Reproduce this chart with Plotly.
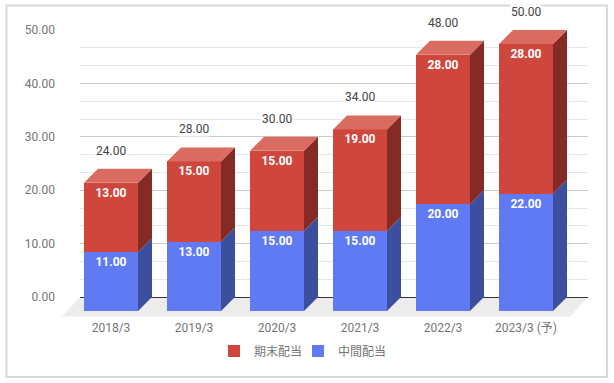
import plotly.graph_objects as go

categories = ["2018/3", "2019/3", "2020/3", "2021/3", "2022/3", "2023/3 (予)"]
interim = [11, 13, 15, 15, 20, 22]
final = [13, 15, 15, 19, 28, 28]
totals = [24, 28, 30, 34, 48, 50]
y_ticks = [0, 10, 20, 30, 40, 50]
series_names = {"interim": "中間配当", "final": "期末配当"}

W, H = 614, 383
FONT = "Roboto, 'Noto Sans CJK JP', sans-serif"
RED, RED_SIDE, RED_TOP = "#cf463c", "#862a25", "#d96b60"
BLUE, BLUE_SIDE = "#5f7af3", "#3c4f9f"

PX_PER_UNIT = 267 / 50
PX_PER_CAT = 83
BAR_W = 54 / PX_PER_CAT
DX = 14 / PX_PER_CAT
DY = 14 / PX_PER_UNIT
FRONT_ZERO_PX = 311
FRONT_BOTTOM_PX = 317
y2_range = [(FRONT_ZERO_PX - FRONT_BOTTOM_PX) / PX_PER_UNIT, FRONT_ZERO_PX / PX_PER_UNIT]


def poly(xs, ys, color):
    return go.Scatter(x=xs, y=ys, mode="lines", fill="toself", fillcolor=color,
                      line=dict(width=0, color=color), hoverinfo="skip",
                      showlegend=False, xaxis="x2", yaxis="y2")


idx = list(range(len(categories)))
fig = go.Figure()

# back-wall axes need a trace to be drawn
fig.add_trace(go.Scatter(x=[0], y=[0], mode="markers", marker=dict(opacity=0),
                         hoverinfo="skip", showlegend=False, xaxis="x", yaxis="y"))

fig.add_trace(go.Bar(x=idx, y=interim, name=series_names["interim"], marker=dict(color=BLUE, line_width=0),
                     width=BAR_W, text=[f"{v:.2f}" for v in interim], textposition="inside",
                     insidetextanchor="end", textangle=0, legend="legend2",
                     textfont=dict(color="white", size=12, family=FONT, weight="bold"),
                     xaxis="x2", yaxis="y2"))
fig.add_trace(go.Bar(x=idx, y=final, name=series_names["final"], marker=dict(color=RED, line_width=0),
                     width=BAR_W, text=[f"{v:.2f}" for v in final], textposition="inside",
                     insidetextanchor="end", textangle=0, legend="legend",
                     textfont=dict(color="white", size=12, family=FONT, weight="bold"),
                     xaxis="x2", yaxis="y2"))

for i, a, b in zip(idx, interim, final):
    r = i + BAR_W / 2
    l = i - BAR_W / 2
    t = a + b
    fig.add_trace(poly([r, r + DX, r + DX, r, r], [0, DY, a + DY, a, 0], BLUE_SIDE))
    fig.add_trace(poly([r, r + DX, r + DX, r, r], [a, a + DY, t + DY, t, a], RED_SIDE))
    fig.add_trace(poly([l, l + DX, r + DX, r, l], [t, t + DY, t + DY, t, t], RED_TOP))

annotations = [dict(x=i, y=t, xref="x2", yref="y2", text=f"{t:.2f}", showarrow=False, yshift=32,
                    bgcolor="white", borderpad=0, font=dict(size=12, color="#444444", family=FONT))
               for i, t in zip(idx, totals)]

shapes = [
    dict(type="path", xref="paper", yref="paper", layer="below", line_width=0, fillcolor="#ececec",
         path=f"M {80/W} {1-297/H} L {588/W} {1-297/H} L {570/W} {1-316.5/H} L {62/W} {1-316.5/H} Z"),
    dict(type="rect", xref="paper", yref="paper", layer="below", fillcolor="rgba(0,0,0,0)",
         line=dict(color="#d9d9d9", width=2), x0=6.5/W, x1=607/W, y0=1-377/H, y1=1-5.5/H),
]

legend_common = dict(orientation="h", xanchor="left", xref="paper", y=1-351/H, yanchor="middle",
                     font=dict(size=12, color="#757575"), bgcolor="rgba(0,0,0,0)")

fig.update_layout(
    width=W, height=H, margin=dict(l=0, r=0, t=0, b=0, autoexpand=False), paper_bgcolor="white",
    plot_bgcolor="rgba(0,0,0,0)",
    barmode="stack", font=dict(family=FONT, size=12, color="#757575"), showlegend=True,
    legend=dict(x=214/W, **legend_common),
    legend2=dict(x=298/W, **legend_common),
    annotations=annotations, shapes=shapes,
    xaxis=dict(domain=[80/W, 588/W], range=[0, 1], visible=False, fixedrange=True),
    yaxis=dict(domain=[1-297/H, 1-30/H], range=[0, 50], tickvals=y_ticks, ticktext=[f"{v:.2f}" for v in y_ticks],
               showgrid=True, gridcolor="#cccccc", gridwidth=1, zeroline=True, zerolinecolor="#333333",
               zerolinewidth=1, showline=False, ticks="", ticklabelstandoff=24,
               tickfont=dict(size=12, color="#757575"), anchor="x", fixedrange=True,
               minor=dict(tick0=0, dtick=10/3, showgrid=True, gridcolor="#e6e6e6", gridwidth=1)),
    xaxis2=dict(domain=[69.5/W, 567.5/W], range=[-0.5, 5.5], tickvals=idx, ticktext=categories, anchor="y2",
                showgrid=False, zeroline=False, showline=False, ticks="", ticklabelstandoff=2,
                tickfont=dict(size=12, color="#757575"), fixedrange=True),
    yaxis2=dict(domain=[1-FRONT_BOTTOM_PX/H, 1], range=y2_range, visible=False, anchor="x2", fixedrange=True),
)
fig.write_html("out.html", post_script="document.body.style.margin='0';", config={"displayModeBar": False})
